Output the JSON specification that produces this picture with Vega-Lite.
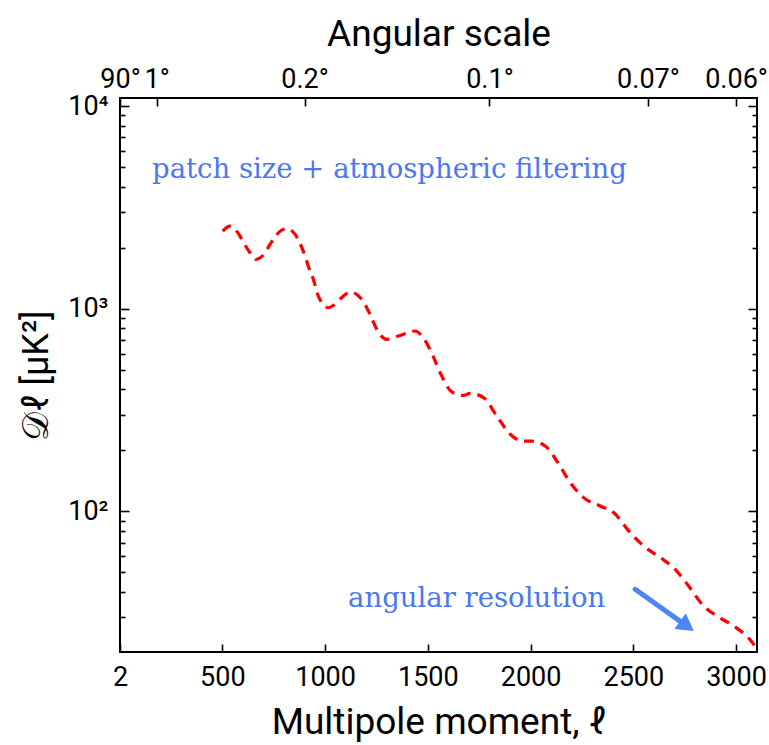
{
  "$schema": "https://vega.github.io/schema/vega-lite/v6.json",
  "width": 637,
  "height": 554,
  "autosize": "none",
  "padding": {"left": 120, "top": 98, "right": 12, "bottom": 93},
  "background": "white",
  "config": {
    "view": {"stroke": "black", "strokeWidth": 2},
    "axis": {
      "domain": false,
      "grid": false,
      "tickColor": "black",
      "tickWidth": 1.6,
      "labelFont": "Roboto",
      "labelFontSize": 27,
      "labelColor": "black",
      "labelFlush": false,
      "labelOverlap": false,
      "labelBound": false,
      "titleFont": "Roboto",
      "titleFontSize": 37,
      "titleFontWeight": "normal",
      "titleColor": "black"
    }
  },
  "resolve": {"axis": {"x": "independent", "y": "independent"}},
  "layer": [
    {
      "data": {"values": [
        {"l": 502, "D": 2415}, {"l": 537, "D": 2556}, {"l": 586, "D": 2281}, {"l": 602, "D": 2131},
        {"l": 635, "D": 1889}, {"l": 664, "D": 1751}, {"l": 708, "D": 1889}, {"l": 732, "D": 2076},
        {"l": 789, "D": 2443}, {"l": 814, "D": 2482}, {"l": 854, "D": 2326}, {"l": 894, "D": 1924},
        {"l": 927, "D": 1533}, {"l": 943, "D": 1395}, {"l": 967, "D": 1154}, {"l": 1016, "D": 1011},
        {"l": 1040, "D": 1038}, {"l": 1089, "D": 1154}, {"l": 1122, "D": 1208}, {"l": 1179, "D": 1111},
        {"l": 1219, "D": 937}, {"l": 1252, "D": 790}, {"l": 1300, "D": 706}, {"l": 1357, "D": 733},
        {"l": 1438, "D": 776}, {"l": 1471, "D": 733}, {"l": 1511, "D": 630}, {"l": 1560, "D": 483},
        {"l": 1617, "D": 388}, {"l": 1673, "D": 373}, {"l": 1706, "D": 382}, {"l": 1771, "D": 364},
        {"l": 1836, "D": 295}, {"l": 1901, "D": 240}, {"l": 1965, "D": 222}, {"l": 2006, "D": 222},
        {"l": 2071, "D": 210}, {"l": 2128, "D": 177}, {"l": 2193, "D": 138.6}, {"l": 2258, "D": 116.8},
        {"l": 2339, "D": 106.2}, {"l": 2404, "D": 98.5}, {"l": 2485, "D": 78.5}, {"l": 2550, "D": 67.4},
        {"l": 2631, "D": 59.1}, {"l": 2704, "D": 51.7}, {"l": 2769, "D": 42.8}, {"l": 2842, "D": 34.1},
        {"l": 2907, "D": 30.4}, {"l": 2988, "D": 27.2}, {"l": 3085, "D": 22.1}, {"l": 3102, "D": 20.8}
      ]},
      "mark": {"type": "line", "color": "#ff0000", "strokeWidth": 3.2, "strokeDash": [10, 7], "interpolate": "monotone", "clip": true},
      "encoding": {
        "x": {"field": "l", "type": "quantitative",
              "scale": {"domain": [2, 3102], "nice": false, "zero": false},
              "axis": {"orient": "bottom", "values": [2, 500, 1000, 1500, 2000, 2500, 3000], "format": "d", "tickSize": -8, "labelPadding": 20, "title": "Multipole moment, ℓ", "titlePadding": 14}},
        "y": {"field": "D", "type": "quantitative",
              "scale": {"type": "log", "domain": [20.2, 10965], "nice": false, "zero": false},
              "axis": {"orient": "left", "values": [100, 1000, 10000], "tickSize": -9, "labelPadding": 21,
                       "labelExpr": "datum.value == 100 ? '10²' : datum.value == 1000 ? '10³' : '10⁴'",
                       "title": "𝒟ℓ [μK²]", "titleFontSize": 36, "titlePadding": 12}}
      }
    },
    {
      "data": {"values": [{"l": 158, "D": 4864, "txt": "patch size + atmospheric filtering"}]},
      "mark": {"type": "text", "align": "left", "baseline": "middle", "font": "DejaVu Serif", "fontSize": 27.5, "color": "#4a78f0"},
      "encoding": {
        "x": {"field": "l", "type": "quantitative",
              "scale": {"domain": [2, 3102], "nice": false, "zero": false},
              "axis": {"orient": "top", "values": [2, 180, 900, 1800, 2571.43, 3000], "tickSize": -8, "labelPadding": 13,
                       "labelExpr": "datum.value < 3 ? '90°' : datum.value < 200 ? '1°' : datum.value < 1000 ? '0.2°' : datum.value < 2000 ? '0.1°' : datum.value < 2800 ? '0.07°' : '0.06°'",
                       "title": "Angular scale", "titlePadding": 12}},
        "y": {"field": "D", "type": "quantitative",
              "scale": {"type": "log", "domain": [20.2, 10965], "nice": false, "zero": false},
              "axis": {"orient": "left", "values": [30, 40, 50, 60, 70, 80, 90, 200, 300, 400, 500, 600, 700, 800, 900, 2000, 3000, 4000, 5000, 6000, 7000, 8000, 9000], "tickSize": -5, "labels": false, "title": null}},
        "text": {"field": "txt"}
      }
    },
    {
      "data": {"values": [{"l": 1112, "D": 36.8, "txt": "angular resolution"}]},
      "mark": {"type": "text", "align": "left", "baseline": "middle", "font": "DejaVu Serif", "fontSize": 27.5, "color": "#4a78f0"},
      "encoding": {
        "x": {"field": "l", "type": "quantitative", "scale": {"domain": [2, 3102], "nice": false, "zero": false}, "axis": null},
        "y": {"field": "D", "type": "quantitative",
              "scale": {"type": "log", "domain": [20.2, 10965], "nice": false, "zero": false},
              "axis": {"orient": "right", "values": [100, 1000, 10000], "tickSize": -9, "labels": false, "title": null}},
        "text": {"field": "txt"}
      }
    },
    {
      "data": {"values": [{"l": 2509, "D": 41.2, "l2": 2761, "D2": 27.1}]},
      "mark": {"type": "rule", "color": "#4d86f2", "strokeWidth": 5, "strokeCap": "round"},
      "encoding": {
        "x": {"field": "l", "type": "quantitative", "scale": {"domain": [2, 3102], "nice": false, "zero": false}, "axis": null},
        "x2": {"field": "l2"},
        "y": {"field": "D", "type": "quantitative",
              "scale": {"type": "log", "domain": [20.2, 10965], "nice": false, "zero": false},
              "axis": {"orient": "right", "values": [30, 40, 50, 60, 70, 80, 90, 200, 300, 400, 500, 600, 700, 800, 900, 2000, 3000, 4000, 5000, 6000, 7000, 8000, 9000], "tickSize": -5, "labels": false, "title": null}},
        "y2": {"field": "D2"}
      }
    },
    {
      "data": {"values": [{"l": 2761, "D": 27.1}]},
      "mark": {"type": "point", "shape": "triangle-right", "filled": true, "color": "#4d86f2", "size": 380, "angle": 36, "opacity": 1},
      "encoding": {
        "x": {"field": "l", "type": "quantitative", "scale": {"domain": [2, 3102], "nice": false, "zero": false}, "axis": null},
        "y": {"field": "D", "type": "quantitative", "scale": {"type": "log", "domain": [20.2, 10965], "nice": false, "zero": false}, "axis": null}
      }
    }
  ]
}
